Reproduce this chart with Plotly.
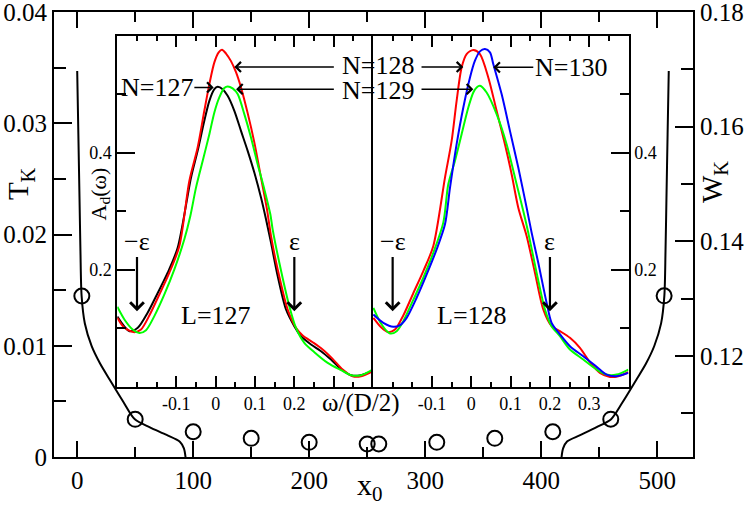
import plotly.graph_objects as go

FONT = "'Liberation Serif', 'Times New Roman', Times, serif"

# ---------------- main panel data ----------------
x0_left = [0.0, 1.0, 2.0, 2.8, 3.8, 6.6, 12.4, 19.6, 28.2, 39.7, 49.7, 62.7, 77.1, 88.5, 92.0, 93.4]
T_left = [0.0347, 0.0290, 0.0232, 0.0185, 0.01447, 0.0120, 0.00998, 0.00842, 0.00692, 0.00497,
          0.00339, 0.00267, 0.00198, 0.00138, 0.00078, 0.0]

x0_right = [510.0, 509.0, 508.0, 507.2, 506.2, 503.4, 497.6, 490.4, 481.8, 470.3, 460.3, 447.8,
            433.6, 422.3, 418.9, 417.6]
W_right = [0.1697, 0.1587, 0.1474, 0.1383, 0.1305, 0.1257, 0.1218, 0.1187, 0.1158, 0.1120,
           0.1090, 0.1076, 0.1062, 0.1051, 0.1039, 0.1024]

x0_sites_T = [4, 50, 100, 150, 200, 250]
T_sites = [0.01447, 0.00339, 0.00227, 0.00168, 0.00132, 0.00117]
x0_sites_W = [260, 310, 360, 410, 460, 506]
W_sites = [0.10467, 0.10496, 0.10566, 0.1068, 0.1090, 0.1305]

x_ticks = [0, 100, 200, 300, 400, 500]
x_minor = [50, 150, 250, 350, 450]
T_ticks = [0, 0.01, 0.02, 0.03, 0.04]
T_ticktext = ["0", "0.01", "0.02", "0.03", "0.04"]
T_minor = [0.005, 0.015, 0.025, 0.035]
W_ticks = [0.12, 0.14, 0.16, 0.18]
W_ticktext = ["0.12", "0.14", "0.16", "0.18"]
W_minor = [0.11, 0.13, 0.15, 0.17]

# ---------------- inset data ----------------
w127 = [-0.25, -0.219, -0.198, -0.173, -0.147, -0.122, -0.0966, -0.0626, -0.0458, -0.0288, -0.016,
        -0.0033, 0.0051, 0.0178, 0.0305, 0.0475, 0.0644, 0.0814, 0.0983, 0.1153, 0.128, 0.1407,
        0.1577, 0.1789, 0.2, 0.217, 0.2424, 0.2678, 0.2932, 0.3187, 0.3441, 0.3653, 0.3865, 0.3992]
A127 = [0.120, 0.095, 0.1007, 0.1264, 0.1607, 0.195, 0.2378, 0.358, 0.4035, 0.4549, 0.4891,
        0.509, 0.5131, 0.509, 0.4977, 0.472, 0.4377, 0.4035, 0.3663, 0.3235, 0.2864, 0.2464,
        0.1893, 0.1321, 0.1036, 0.0864, 0.0721, 0.0607, 0.0464, 0.0304, 0.0196, 0.019, 0.0236, 0.0276]

w128L = [-0.25, -0.232, -0.2067, -0.1898, -0.1686, -0.1431, -0.1177, -0.0923, -0.0669, -0.0458,
         -0.0288, -0.016, -0.0033, 0.0077, 0.0161, 0.0263, 0.039, 0.0517, 0.0644, 0.0814, 0.0983,
         0.1153, 0.1305, 0.1407, 0.1577, 0.1831, 0.2042, 0.2212, 0.2466, 0.272, 0.2974, 0.3229,
         0.3483, 0.3695, 0.3992]
A128L = [0.1178, 0.1007, 0.0933, 0.0978, 0.1218, 0.1578, 0.195, 0.2407, 0.352, 0.4092, 0.472,
         0.5177, 0.5548, 0.572, 0.5765, 0.570, 0.557, 0.538, 0.512, 0.468, 0.418, 0.3578,
         0.3035, 0.2578, 0.2007, 0.1321, 0.1007, 0.0876, 0.0761, 0.0636, 0.0476, 0.0293, 0.0179,
         0.0179, 0.0264]

w129L = [-0.25, -0.232, -0.211, -0.194, -0.177, -0.1559, -0.1304, -0.105, -0.0796, -0.0644, -0.05,
         -0.033, -0.016, -0.0033, 0.0093, 0.022, 0.0305, 0.0432, 0.0559, 0.0729, 0.0898, 0.1068,
         0.1237, 0.139, 0.1449, 0.1619, 0.1873, 0.2042, 0.2254, 0.2509, 0.2848, 0.3187, 0.3441,
         0.3695, 0.3992]
A129L = [0.1367, 0.115, 0.0978, 0.092, 0.0967, 0.1207, 0.1578, 0.2007, 0.2521, 0.292, 0.3406,
         0.3863, 0.432, 0.4692, 0.4949, 0.5109, 0.5137, 0.5103, 0.5006, 0.4663, 0.4263, 0.3806,
         0.3378, 0.2949, 0.2692, 0.2121, 0.1378, 0.1007, 0.075, 0.059, 0.0407, 0.0282, 0.0196,
         0.0196, 0.0293]

w128R = [-0.249, -0.228, -0.211, -0.194, -0.173, -0.147, -0.122, -0.0966, -0.0669, -0.05, -0.0373,
         -0.0246, -0.0119, 0.0051, 0.022, 0.0432, 0.0644, 0.0856, 0.1026, 0.1195, 0.1407, 0.1619,
         0.1831, 0.2042, 0.2254, 0.2509, 0.2763, 0.3017, 0.3271, 0.3526, 0.3738, 0.3992]
A128R = [0.1178, 0.1007, 0.0933, 0.0978, 0.1218, 0.1607, 0.1978, 0.2407, 0.3578, 0.4206, 0.4891,
         0.5463, 0.5691, 0.576, 0.5691, 0.5291, 0.472, 0.4149, 0.3635, 0.3063, 0.2578, 0.195,
         0.1321, 0.1036, 0.095, 0.0836, 0.0664, 0.0419, 0.0236, 0.0167, 0.0179, 0.0247]

w129R = [-0.249, -0.228, -0.2067, -0.1898, -0.173, -0.147, -0.122, -0.0966, -0.0712, -0.0585,
         -0.0416, -0.0246, -0.0076, 0.0051, 0.0136, 0.022, 0.039, 0.0644, 0.0898, 0.1153, 0.1322,
         0.1449, 0.1661, 0.1873, 0.2042, 0.2254, 0.2509, 0.2848, 0.3187, 0.3441, 0.3695, 0.3992]
A129R = [0.135, 0.1064, 0.091, 0.095, 0.1121, 0.1493, 0.1864, 0.2292, 0.2807, 0.3463, 0.3863,
         0.432, 0.4777, 0.5034, 0.512, 0.5149, 0.5034, 0.4663, 0.4149, 0.3463, 0.3006, 0.2635,
         0.195, 0.1321, 0.1036, 0.0864, 0.0636, 0.0464, 0.0293, 0.0207, 0.0207, 0.0293]

w130R = [-0.249, -0.2237, -0.1983, -0.1813, -0.1644, -0.139, -0.1135, -0.0881, -0.0669, -0.0542,
         -0.0373, -0.0203, -0.0033, 0.0093, 0.022, 0.0348, 0.0475, 0.0559, 0.0771, 0.0983, 0.1195,
         0.1407, 0.1534, 0.1703, 0.1915, 0.2042, 0.2212, 0.2509, 0.2848, 0.3187, 0.3441, 0.3695,
         0.3992]
A130R = [0.1236, 0.1093, 0.1024, 0.1053, 0.1178, 0.1521, 0.1921, 0.235, 0.2778, 0.340, 0.4149,
         0.4777, 0.5291, 0.5577, 0.5737, 0.5777, 0.572, 0.552, 0.5006, 0.4377, 0.3749, 0.3063,
         0.2635, 0.2121, 0.1436, 0.1093, 0.0933, 0.0693, 0.0521, 0.0339, 0.0207, 0.0179, 0.0236]

inset_ticks = [-0.1, 0, 0.1, 0.2, 0.3]
inset_ticktext_L = ["-0.1", "0", "0.1", "0.2", ""]
inset_ticktext_R = ["-0.1", "0", "0.1", "0.2", "0.3"]
inset_minor = [-0.2, -0.15, -0.05, 0.05, 0.15, 0.25, 0.35]
A_ticks = [0.2, 0.4]
A_ticktext = ["0.2", "0.4"]
A_minor = [0.1, 0.3, 0.5]

# ---------------- figure ----------------
fig = go.Figure()

def line(x, y, color, xa, ya, width=2):
    fig.add_trace(go.Scatter(x=x, y=y, mode="lines", xaxis=xa, yaxis=ya,
                             line=dict(color=color, width=width, shape="spline", smoothing=0.8),
                             hoverinfo="skip"))

line(x0_left, T_left, "black", "x", "y")
line(x0_right, W_right, "black", "x", "y2")
mk = dict(symbol="circle-open", size=15, color="black", line=dict(width=2, color="black"))
fig.add_trace(go.Scatter(x=x0_sites_T, y=T_sites, mode="markers", marker=mk, xaxis="x", yaxis="y"))
fig.add_trace(go.Scatter(x=x0_sites_W, y=W_sites, mode="markers", marker=mk, xaxis="x", yaxis="y2"))

line(w127, A127, "#000000", "x2", "y3")
line(w128L, A128L, "#ff0000", "x2", "y3")
line(w129L, A129L, "#00ff00", "x2", "y3")
line(w128R, A128R, "#ff0000", "x3", "y4")
line(w129R, A129R, "#00ff00", "x3", "y4")
line(w130R, A130R, "#0000ff", "x3", "y4")

common = dict(showgrid=False, zeroline=False, showline=True, linecolor="black", linewidth=2,
              ticks="inside", tickcolor="black", tickwidth=2, automargin=False,
              ticklabeloverflow="allow")

ins_dom_y = [0.158, 0.9461]

fig.update_layout(
    width=747, height=507,
    margin=dict(l=54, r=54, t=12, b=50),
    paper_bgcolor="white", plot_bgcolor="rgba(0,0,0,0)",
    showlegend=False,
    font=dict(family=FONT, color="black"),
    xaxis=dict(domain=[0, 1], anchor="y", range=[-20, 530.9], tickvals=x_ticks,
               ticklen=16, mirror="ticks", tickfont=dict(size=25, family=FONT),
               minor=dict(tickvals=x_minor, ticks="inside", ticklen=10, tickwidth=2, tickcolor="black"),
               **common),
    yaxis=dict(domain=[0, 1], anchor="x", range=[0, 0.04], tickvals=T_ticks, ticktext=T_ticktext,
               ticklen=18, mirror=False, tickfont=dict(size=25, family=FONT),
               minor=dict(tickvals=T_minor, ticks="inside", ticklen=12, tickwidth=2, tickcolor="black"),
               **common),
    yaxis2=dict(overlaying="y", side="right", anchor="x", range=[0.1024, 0.18], tickvals=W_ticks,
                ticktext=W_ticktext, ticklen=18, tickfont=dict(size=25, family=FONT),
                minor=dict(tickvals=W_minor, ticks="inside", ticklen=12, tickwidth=2, tickcolor="black"),
                **common),
    xaxis2=dict(domain=[0.0991, 0.4992], anchor="y3", range=[-0.25, 0.4], tickvals=inset_ticks,
                ticktext=inset_ticktext_L, ticklen=11, mirror="ticks", tickfont=dict(size=18, family=FONT),
                minor=dict(tickvals=inset_minor, ticks="inside", ticklen=5, tickwidth=2, tickcolor="black"),
                **common),
    yaxis3=dict(domain=ins_dom_y, anchor="x2", range=[0, 0.6], tickvals=A_ticks, ticktext=A_ticktext,
                ticklen=18, mirror=False, tickfont=dict(size=18, family=FONT),
                minor=dict(tickvals=A_minor, ticks="inside", ticklen=9, tickwidth=2, tickcolor="black"),
                **common),
    xaxis3=dict(domain=[0.4992, 0.8992], anchor="y4", range=[-0.25, 0.4], tickvals=inset_ticks,
                ticktext=inset_ticktext_R, ticklen=11, mirror="ticks", tickfont=dict(size=18, family=FONT),
                minor=dict(tickvals=inset_minor, ticks="inside", ticklen=5, tickwidth=2, tickcolor="black"),
                **common),
    yaxis4=dict(domain=ins_dom_y, anchor="x3", side="right", range=[0, 0.6], tickvals=A_ticks,
                ticktext=A_ticktext, ticklen=18, mirror=True, tickfont=dict(size=18, family=FONT),
                minor=dict(tickvals=A_minor, ticks="inside", ticklen=9, tickwidth=2, tickcolor="black"),
                **common),
)

anns = []
lab = dict(size=26, family=FONT, color="black")
arrow_thin = dict(showarrow=True, arrowhead=4, arrowsize=1.4, arrowwidth=1.4, arrowcolor="black")
arrow_thick = dict(showarrow=True, arrowhead=4, arrowsize=1.2, arrowwidth=2.2, arrowcolor="black")

# N labels
anns.append(dict(xref="x2", yref="y3", x=-0.005, y=0.512, axref="x2", ayref="y3", ax=-0.1495, ay=0.512,
                 text="N=127", font=lab, **arrow_thin))
anns.append(dict(xref="paper", yref="paper", x=0.507, y=0.8787, text="N=128", showarrow=False,
                 xanchor="center", yanchor="middle", font=lab))
anns.append(dict(xref="x2", yref="y3", x=0.0475, y=0.547, axref="x2", ayref="y3", ax=0.3043, ay=0.547,
                 text="", **arrow_thin))
anns.append(dict(xref="x3", yref="y4", x=-0.0203, y=0.547, axref="x3", ayref="y4", ax=-0.1304, ay=0.547,
                 text="", **arrow_thin))
anns.append(dict(xref="paper", yref="paper", x=0.507, y=0.8247, text="N=129", showarrow=False,
                 xanchor="center", yanchor="middle", font=lab))
anns.append(dict(xref="x2", yref="y3", x=0.0519, y=0.509, axref="x2", ayref="y3", ax=0.3043, ay=0.509,
                 text="", **arrow_thin))
anns.append(dict(xref="x3", yref="y4", x=0.0051, y=0.509, axref="x3", ayref="y4", ax=-0.1304, ay=0.509,
                 text="", **arrow_thin))
anns.append(dict(xref="x3", yref="y4", x=0.0559, y=0.5464, axref="x3", ayref="y4", ax=0.253, ay=0.5464,
                 text="N=130", font=lab, **arrow_thin))

# epsilon arrows
for xr, yr in (("x2", "y3"), ("x3", "y4")):
    anns.append(dict(xref=xr, yref=yr, x=-0.2, y=0.1292, axref=xr, ayref=yr, ax=-0.2, ay=0.2492,
                     text="\u2212\u03b5", font=lab, **arrow_thick))
    anns.append(dict(xref=xr, yref=yr, x=0.2, y=0.1292, axref=xr, ayref=yr, ax=0.2, ay=0.2492,
                     text="\u03b5", font=lab, **arrow_thick))

anns.append(dict(xref="x2", yref="y3", x=0.0, y=0.122, text="L=127", showarrow=False, font=lab,
                 xanchor="center", yanchor="middle"))
anns.append(dict(xref="x3", yref="y4", x=0.0025, y=0.122, text="L=128", showarrow=False, font=lab,
                 xanchor="center", yanchor="middle"))

# axis titles
anns.append(dict(xref="paper", yref="paper", x=0.4804, y=0.1213, text="\u03c9/(D/2)", showarrow=False,
                 font=dict(size=25, family=FONT), xanchor="center", yanchor="middle"))
anns.append(dict(xref="paper", yref="paper", x=0.072, y=0.59, text="A<sub>d</sub>(\u03c9)", showarrow=False,
                 textangle=-90, font=dict(size=22, family=FONT), xanchor="center", yanchor="middle"))
anns.append(dict(xref="paper", yref="paper", x=-0.052, y=0.615, text="T<sub>K</sub>", showarrow=False,
                 textangle=-90, font=dict(size=29, family=FONT), xanchor="center", yanchor="middle"))
anns.append(dict(xref="paper", yref="paper", x=1.033, y=0.618, text="W<sub>K</sub>", showarrow=False,
                 textangle=-90, font=dict(size=29, family=FONT), xanchor="center", yanchor="middle"))
anns.append(dict(xref="paper", yref="paper", x=0.4945, y=-0.067, text="x<sub>0</sub>", showarrow=False,
                 font=dict(size=30, family=FONT), xanchor="center", yanchor="middle"))

fig.update_layout(annotations=anns)
fig.write_html("out.html", config={"displayModeBar": False},
               post_script="document.body.style.margin='0';document.body.style.padding='0';")
